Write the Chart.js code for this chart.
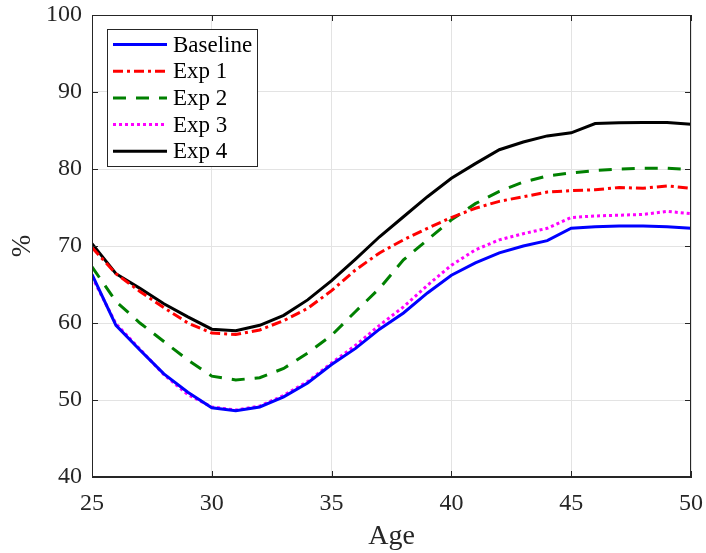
<!DOCTYPE html>
<html>
<head>
<meta charset="utf-8">
<script src="https://cdn.jsdelivr.net/npm/chart.js@4/dist/chart.umd.min.js"></script>
<style>
  html,body{margin:0;padding:0;background:#fff;}
  #wrap{width:706px;height:553px;}
</style>
</head>
<body>
<div id="wrap"><canvas id="chart" width="706" height="553"></canvas></div>
<script>
// values
let ages=[25,26,27,28,29,30,31,32,33,34,35,36,37,38,39,40,41,42,43,44,45,46,47,48,49,50];
let baseline=[66.3,59.7,56.5,53.4,51.0,49.0,48.6,49.1,50.4,52.2,54.6,56.7,59.2,61.3,63.9,66.2,67.8,69.1,70.0,70.7,72.3,72.5,72.6,72.6,72.5,72.3];
let exp1=[69.8,66.4,64.1,62.0,60.0,58.7,58.5,59.1,60.3,61.9,64.2,66.9,69.1,70.8,72.3,73.7,74.9,75.8,76.4,77.0,77.2,77.3,77.6,77.5,77.8,77.5];
let exp2=[67.3,62.8,60.0,57.6,55.2,53.1,52.6,52.9,54.1,56.1,58.4,61.5,64.5,68.2,70.8,73.4,75.5,77.1,78.3,79.1,79.5,79.8,80.0,80.1,80.1,79.9];
let exp3=[66.0,59.9,56.6,53.3,50.7,49.1,48.7,49.2,50.6,52.4,54.8,57.1,59.7,62.1,64.9,67.5,69.5,70.8,71.6,72.3,73.7,73.9,74.0,74.1,74.5,74.2];
let exp4=[70.3,66.4,64.5,62.5,60.8,59.2,59.0,59.7,61.0,63.0,65.5,68.3,71.2,73.8,76.4,78.8,80.7,82.5,83.5,84.3,84.7,85.9,86.0,86.05,86.05,85.8];
let seriesNames=["Baseline","Exp 1","Exp 2","Exp 3","Exp 4"];
let xTicks=[25,30,35,40,45,50];
let yTicks=[40,50,60,70,80,90,100];

let font="'Liberation Serif','Times New Roman',serif";

function pts(arr){
    return arr.map(function(v,i){ return {x:ages[i],y:v}; });
}

let styles=[
    {color:"#0000ff",dash:[]},
    {color:"#ff0000",dash:[10,4,3,4]},
    {color:"#008000",dash:[13,10]},
    {color:"#ff00ff",dash:[3,3]},
    {color:"#000000",dash:[]}
];
let values=[baseline,exp1,exp2,exp3,exp4];

let datasets=values.map(function(v,i){
    return {
        label:seriesNames[i],
        data:pts(v),
        borderColor:styles[i].color,
        borderDash:styles[i].dash,
        borderWidth:3,
        pointRadius:0,
        tension:0,
        fill:false
    };
});

// box, inward ticks and legend
let boxPlugin={
    id:"boxPlugin",
    afterDraw:function(c){
        let ctx=c.ctx;
        let a=c.chartArea;
        let xs=c.scales.x, ys=c.scales.y;
        ctx.save();
        ctx.strokeStyle="#262626";
        ctx.lineWidth=1;
        ctx.setLineDash([]);
        ctx.strokeRect(a.left+0.5,a.top+0.5,a.right-a.left-1,a.bottom-a.top-1);
        ctx.beginPath();
        xTicks.forEach(function(t){
            let px=Math.round(xs.getPixelForValue(t))+0.5;
            ctx.moveTo(px,a.bottom); ctx.lineTo(px,a.bottom-6);
            ctx.moveTo(px,a.top); ctx.lineTo(px,a.top+6);
        });
        yTicks.forEach(function(t){
            let py=Math.round(ys.getPixelForValue(t))+0.5;
            ctx.moveTo(a.left,py); ctx.lineTo(a.left+6,py);
            ctx.moveTo(a.right,py); ctx.lineTo(a.right-6,py);
        });
        ctx.stroke();

        // legend
        let lx=a.left+15, ly=a.top+14, lw=150, lh=137;
        ctx.fillStyle="#fff";
        ctx.fillRect(lx,ly,lw,lh);
        ctx.strokeStyle="#262626";
        ctx.strokeRect(lx+0.5,ly+0.5,lw,lh);
        ctx.font="23px "+font;
        ctx.textBaseline="middle";
        ctx.textAlign="left";
        c.data.datasets.forEach(function(d,i){
            let yy=ly+15.5+i*26.7;
            ctx.beginPath();
            ctx.strokeStyle=d.borderColor;
            ctx.lineWidth=3;
            ctx.setLineDash(d.borderDash);
            ctx.moveTo(lx+6,yy); ctx.lineTo(lx+60,yy);
            ctx.stroke();
            ctx.setLineDash([]);
            ctx.fillStyle="#000";
            ctx.fillText(d.label,lx+66,yy+1);
        });
        ctx.restore();
    }
};

let chart=new Chart(document.getElementById("chart"),{
    type:"line",
    data:{datasets:datasets},
    options:{
        responsive:false,
        animation:false,
        layout:{padding:0},
        plugins:{legend:{display:false},tooltip:{enabled:false}},
        scales:{
            x:{
                type:"linear",
                min:25,max:50,
                afterBuildTicks:function(s){ s.ticks=xTicks.map(function(v){return {value:v};}); },
                afterFit:function(s){ s.height=76; s.paddingLeft=0; s.paddingRight=15; },
                grid:{color:"#e3e3e3",drawTicks:false},
                border:{color:"#262626"},
                ticks:{color:"#262626",padding:12,font:{family:font,size:24}},
                title:{display:true,text:"Age",color:"#262626",font:{family:font,size:28},padding:{top:0,bottom:0}}
            },
            y:{
                min:40,max:100,
                afterBuildTicks:function(s){ s.ticks=yTicks.map(function(v){return {value:v};}); },
                afterFit:function(s){ s.width=92; s.paddingTop=15; s.paddingBottom=0; },
                grid:{color:"#e3e3e3",drawTicks:false},
                border:{color:"#262626"},
                ticks:{color:"#262626",padding:10,font:{family:font,size:24}},
                title:{display:true,text:"%",color:"#262626",font:{family:font,size:27},padding:{top:7,bottom:0}}
            }
        }
    },
    plugins:[boxPlugin]
});
</script>
</body>
</html>
